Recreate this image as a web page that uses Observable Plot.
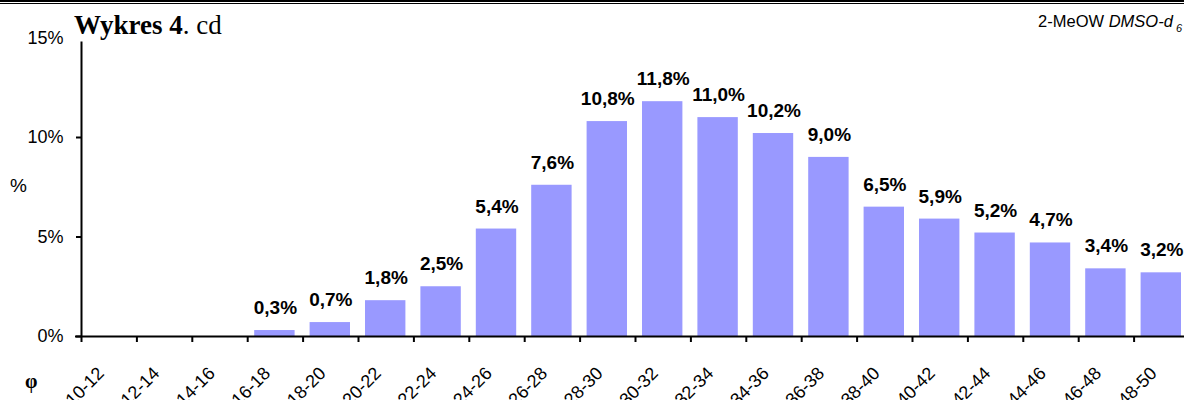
<!DOCTYPE html>
<html><head><meta charset="utf-8">
<script src="https://cdn.jsdelivr.net/npm/d3@7"></script>
<script src="https://cdn.jsdelivr.net/npm/@observablehq/plot@0.6"></script>
<style>
html,body{margin:0;padding:0;background:#fff;overflow:hidden;width:1184px;height:400px}
#wrap{position:relative;width:1184px;height:400px;overflow:hidden;background:#fff}
#chart{position:absolute;left:0;top:0;width:1189px;height:400px}
#chart svg{max-width:none !important;display:block}
#overlay{position:absolute;left:0;top:0}
#note{position:absolute;right:2px;top:11.3px;font:16.5px/20px Arial,'Liberation Sans',sans-serif;white-space:nowrap;color:#000}
#note sub{font-size:11px;font-style:italic;vertical-align:-5px;line-height:0;margin-left:3px}
</style></head><body>
<div id="wrap"><div id="chart"></div>
<svg id="overlay" width="1184" height="400" xmlns="http://www.w3.org/2000/svg"><rect x="0" y="0" width="1184" height="2" fill="#000"></rect><rect x="0" y="3" width="1184" height="1" fill="#000"></rect><rect x="70" y="8" width="160" height="33.5" fill="#fff"></rect><text x="74" y="34" font-family="'Liberation Serif','Times New Roman',serif" font-size="27"><tspan font-weight="bold">Wykres 4</tspan>. cd</text><text x="10" y="192" font-family="Arial,'Liberation Sans',sans-serif" font-size="19">%</text><text x="25" y="388" font-family="'Liberation Serif','DejaVu Serif',serif" font-weight="bold" font-size="20">φ</text></svg>
<div id="note">2-MeOW <i>DMSO-d</i><sub>6</sub></div>
</div>
<script>
const categories = ["10-12","12-14","14-16","16-18","18-20","20-22","22-24","24-26","26-28","28-30","30-32","32-34","34-36","36-38","38-40","40-42","42-44","44-46","46-48","48-50"];
const values = [0,0,0,0.3,0.7,1.8,2.5,5.4,7.6,10.8,11.8,11.0,10.2,9.0,6.5,5.9,5.2,4.7,3.4,3.2];
const yTicks = [0,5,10,15];

const data = categories.map((c,i)=>({i, c, v: values[i]}));
const idx = d3.range(categories.length);

const plot = Plot.plot({
  width: 1189, height: 400,
  marginLeft: 81, marginRight: 0, marginTop: 37.5, marginBottom: 64,
  style: {fontFamily: "Arial, 'Liberation Sans', sans-serif", background: "white", overflow: "visible", color: "black", maxWidth: "none"},
  x: {type: "linear", domain: [0, categories.length]},
  y: {domain: [0, 15]},
  marks: [
    Plot.rectY(data, {x1: "i", x2: d => d.i + 1, y: "v", fill: "#9999FF", insetLeft: 7, insetRight: 8}),
    Plot.axisY({ticks: yTicks, tickFormat: d => d + "%", tickSize: 5, tickPadding: 13, fontSize: 18, strokeWidth: 2, label: null}),
    Plot.ruleX([0], {y1: 0, y2: 15, strokeWidth: 2}),
    Plot.ruleY([0], {insetLeft: -6, strokeWidth: 2}),
    Plot.axisX({ticks: d3.range(categories.length + 1), tickSize: 6, tickFormat: () => "", strokeWidth: 2, label: null}),
    Plot.text(idx, {x: i => i + 0.5, y: () => 0, text: i => categories[i], rotate: -45, textAnchor: "end", lineAnchor: "bottom", dx: -4, dy: 38, fontSize: 18}),
    Plot.text(data.filter(d => d.v > 0), {x: d => d.i + 0.5, y: "v", text: d => d.v.toFixed(1).replace(".", ",") + "%", dy: -16.5, lineAnchor: "bottom", fontWeight: "bold", fontSize: 19})
  ]
});
document.getElementById("chart").appendChild(plot);
</script>
</body></html>
